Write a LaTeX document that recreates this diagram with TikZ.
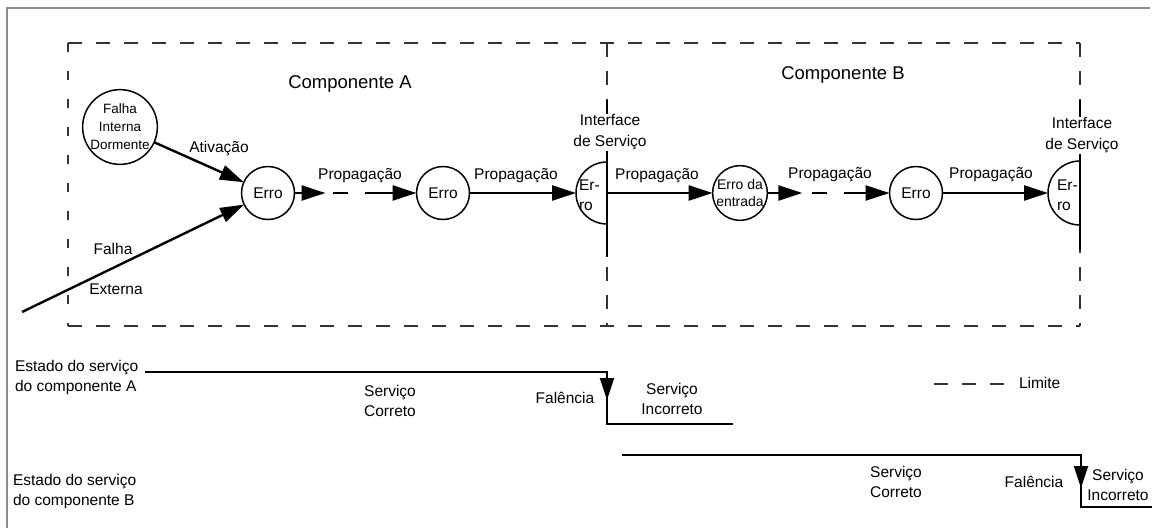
\documentclass[tikz,border=0pt]{standalone}
\usepackage{fontspec}
\setmainfont{Liberation Sans}
\usetikzlibrary{arrows.meta}

\begin{document}
\begin{tikzpicture}[x=1pt,y=-1pt,
  every node/.style={inner sep=0pt,outer sep=0pt},
  lbl/.style={font=\fontsize{15.5}{20.5}\selectfont,align=center},
  lblw/.style={lbl,fill=white,inner sep=1pt},
  ttl/.style={font=\fontsize{18.5}{22}\selectfont},
  errc/.style={draw,circle,line width=1.5pt,minimum size=53pt,
    font=\fontsize{15.5}{18}\selectfont,align=center},
  flow/.style={line width=2.4pt,-{Triangle[length=24pt,width=15pt]}},
  flowdash/.style={flow,dash pattern=on 0pt off #1 on 15pt off 17pt on 90pt off 0pt},
  bnd/.style={line width=1.5pt,black!80,dash pattern=on 14pt off 14pt},
  bndv/.style={line width=1.5pt,black!80,dash pattern=on 9pt off 19pt},
  iface/.style={line width=2pt},
  half/.style={line width=1.5pt},
  state/.style={line width=2.2pt},
  fall/.style={line width=2.2pt,-{Triangle[length=22pt,width=14pt]}},
  frame/.style={line width=2pt,black!45}
]
\useasboundingbox (0,0) rectangle (1158,528);

% outer frame (top and left edges)
\draw[frame] (1150,8) -- (7,8) -- (7,528);

% component boundaries
\draw[bnd] (68,43) -- (1080,43);
\draw[bnd] (68,326) -- (1080,326);
\draw[bndv] (68,43) -- (68,326);
\draw[bnd] (607,43) -- (607,326);
\draw[bnd] (1080,43) -- (1080,326);

% service interfaces
\draw[iface] (607,100) -- (607,257);
\draw[iface] (1080,100) -- (1080,250);
\node[lblw] (ifAl) at (610,132) {Interface\\de Serviço};
\node[lblw] (ifBl) at (1082,135) {Interface\\de Serviço};

% component titles
\node[ttl,anchor=base] (tA) at (350,88) {Componente A};
\node[ttl,anchor=base] (tB) at (843,79) {Componente B};

% faults and errors
\node[draw,circle,line width=1.5pt,minimum size=73pt,
  font=\fontsize{13.5}{18}\selectfont,align=center] (fid) at (120,127) {Falha\\Interna\\Dormente};
\node[errc] (e1) at (268,193) {Erro};
\node[errc] (e2) at (443,193) {Erro};
\node[errc,font=\fontsize{14}{17}\selectfont] (ee) at (740,193) {Erro da\\entrada};
\node[errc] (e3) at (916,193) {Erro};

% errors reaching the interfaces
\coordinate (ifA) at (607,193);
\coordinate (ifB) at (1080,193);
\draw[half] ([yshift=31pt]ifA) arc[start angle=90,end angle=270,radius=31pt];
\draw[half] ([yshift=32pt]ifB) arc[start angle=90,end angle=270,radius=32pt];
\node[lbl,align=left,anchor=west] (erA) at (579,195) {Er-\\ro};
\node[lbl,align=left,anchor=west] (erB) at (1057,195) {Er-\\ro};

% propagation chain
\coordinate (ext) at (22,312);
\draw[flow] (fid) -- (e1);
\draw[flow] (ext) -- (e1);
\draw[flow] (e1.east) -- ++(31,0) coordinate (p1);
\draw[flowdash=7pt] (p1) -- (e2);
\draw[flow] (e2) -- ([xshift=-31pt]ifA);
\draw[flow] (ifA) -- (ee);
\draw[flow] (ee.east) -- ++(35,0) coordinate (p4);
\draw[flowdash=10pt] (p4) -- (e3);
\draw[flow] (e3) -- ([xshift=-32pt]ifB);

% arrow labels
\node[lbl,anchor=base] (lAtiv) at (219,152) {Ativação};
\node[lbl,anchor=base] (lFalha) at (113,254) {Falha};
\node[lbl,anchor=base] (lExt) at (116,294) {Externa};
\node[lbl,anchor=base] (lp1) at (360,179) {Propagação};
\node[lbl,anchor=base] (lp2) at (516,179) {Propagação};
\node[lbl,anchor=base] (lp3) at (657,179) {Propagação};
\node[lbl,anchor=base] (lp4) at (830,178) {Propagação};
\node[lbl,anchor=base] (lp5) at (991,178) {Propagação};

% service state of component A
\node[lbl,align=left,anchor=north west] (stA) at (15,360) {Estado do serviço\\do componente A};
\coordinate (a0) at (145,372);
\coordinate (a1) at (607,372);
\coordinate (a2) at (607,424);
\coordinate (a3) at (733,424);
\coordinate (af) at (607,400);
\draw[state] (a0) -- (a1) -- (a2) -- (a3);
\draw[fall] (a1) -- (af);
\node[lbl] (scA) at (390,401) {Serviço\\Correto};
\node[lbl] (fA) at (565,398) {Falência};
\node[lbl] (siA) at (672,399) {Serviço\\Incorreto};

% service state of component B
\node[lbl,align=left,anchor=north west] (stB) at (13,474) {Estado do serviço\\do componente B};
\coordinate (b0) at (622,455);
\coordinate (b1) at (1081,455);
\coordinate (b2) at (1081,507);
\coordinate (b3) at (1152,507);
\coordinate (bf) at (1081,488);
\draw[state] (b0) -- (b1) -- (b2) -- (b3);
\draw[fall] (b1) -- (bf);
\node[lbl] (scB) at (896,482) {Serviço\\Correto};
\node[lbl] (fB) at (1034,482) {Falência};
\node[lbl] (siB) at (1118,485) {Serviço\\Incorreto};

% legend
\coordinate (lg0) at (934,384);
\coordinate (lg1) at (1004,384);
\draw[bnd] (lg0) -- (lg1);
\node[lbl,anchor=west] (lim) at (1019,383) {Limite};
\end{tikzpicture}
\end{document}
